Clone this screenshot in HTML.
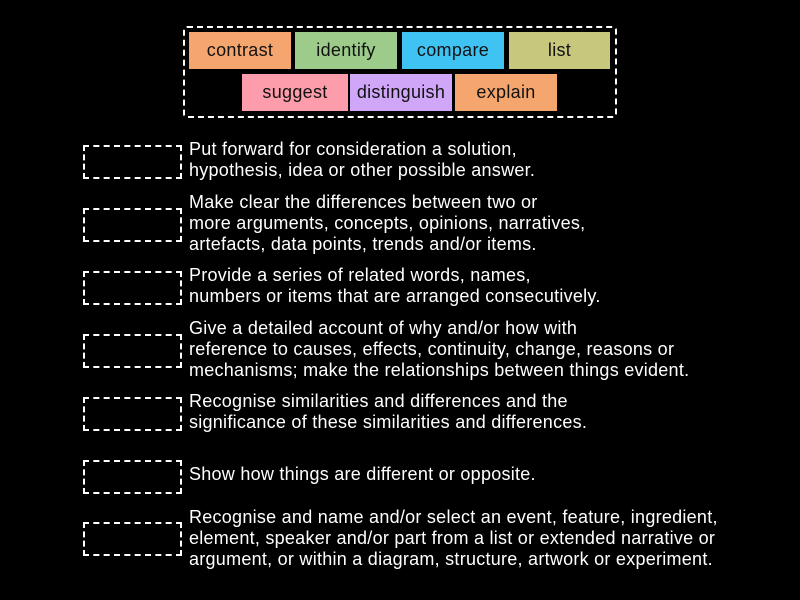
<!DOCTYPE html>
<html><head><style>
body{margin:0;width:800px;height:600px;background:#000;position:relative;overflow:hidden;font-family:"Liberation Sans",sans-serif;}
.c{position:absolute;left:183px;top:26px;width:430px;height:88px;border:2px dashed #fff;border-radius:4px;}
.t{position:absolute;height:37px;line-height:37px;text-align:center;font-size:18px;letter-spacing:0.3px;color:#111;}
.b{position:absolute;left:83px;width:95px;height:30px;border:2px dashed #fff;}
.x{position:absolute;left:189px;color:#fff;font-size:18px;letter-spacing:0.26px;line-height:21px;white-space:nowrap;}
</style></head><body>
<div class="c"></div>
<div class="t" style="left:189px;top:32px;width:102px;background:#f5a66e">contrast</div>
<div class="t" style="left:295px;top:32px;width:102px;background:#9ccb8a">identify</div>
<div class="t" style="left:402px;top:32px;width:102px;background:#3fc3f3">compare</div>
<div class="t" style="left:509px;top:32px;width:101px;background:#c8c77e">list</div>
<div class="t" style="left:242px;top:74px;width:106px;background:#fd9dac">suggest</div>
<div class="t" style="left:350px;top:74px;width:102px;background:#cfa6f8">distinguish</div>
<div class="t" style="left:455px;top:74px;width:102px;background:#f5a66e">explain</div>

<div class="b" style="top:145px"></div>
<div class="b" style="top:208px"></div>
<div class="b" style="top:271px"></div>
<div class="b" style="top:334px"></div>
<div class="b" style="top:397px"></div>
<div class="b" style="top:460px"></div>
<div class="b" style="top:522px"></div>

<div class="x" style="top:139px">Put forward for consideration a solution,<br>hypothesis, idea or other possible answer.</div>
<div class="x" style="top:192px">Make clear the differences between two or<br>more arguments, concepts, opinions, narratives,<br>artefacts, data points, trends and/or items.</div>
<div class="x" style="top:265px">Provide a series of related words, names,<br>numbers or items that are arranged consecutively.</div>
<div class="x" style="top:318px">Give a detailed account of why and/or how with<br>reference to causes, effects, continuity, change, reasons or<br>mechanisms; make the relationships between things evident.</div>
<div class="x" style="top:391px">Recognise similarities and differences and the<br>significance of these similarities and differences.</div>
<div class="x" style="top:464px">Show how things are different or opposite.</div>
<div class="x" style="top:507px">Recognise and name and/or select an event, feature, ingredient,<br>element, speaker and/or part from a list or extended narrative or<br>argument, or within a diagram, structure, artwork or experiment.</div>
</body></html>
